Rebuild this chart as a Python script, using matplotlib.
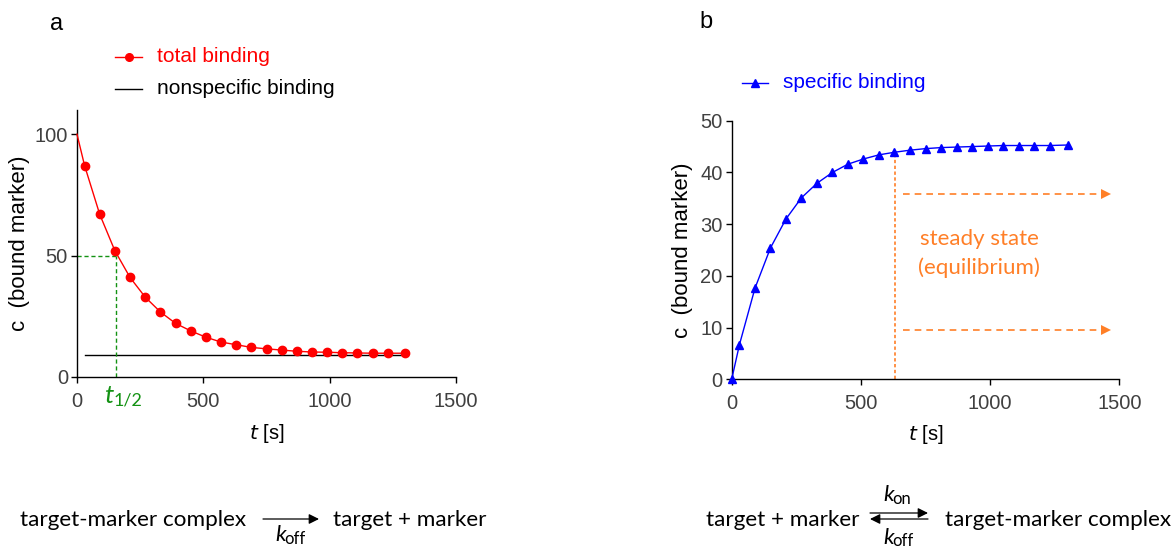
import matplotlib
matplotlib.use("Agg")
import matplotlib.pyplot as plt
from matplotlib.lines import Line2D
from matplotlib.patches import FancyArrowPatch

# ---------------- data ----------------
# panel a: total binding (line starts at t=0, c=100; markers from t=30)
t_total = [0, 30, 90, 150, 210, 270, 330, 390, 450, 510, 570, 630, 690, 750,
           810, 870, 930, 990, 1050, 1110, 1170, 1230, 1300]
c_total = [100, 87.1, 67.0, 52.0, 41.0, 32.9, 26.8, 22.1, 19.0, 16.4, 14.4, 13.3,
           12.2, 11.6, 11.1, 10.6, 10.3, 10.2, 10.0, 9.9, 9.8, 9.8, 9.8]
# nonspecific binding
t_ns = [30, 1300]
c_ns = [9.1, 9.1]
# half-life marker
t_half = 155
c_half = 50

# panel b: specific binding
t_spec = [0, 30, 90, 150, 210, 270, 330, 390, 450, 510, 570, 630, 690, 750,
          810, 870, 930, 990, 1050, 1110, 1170, 1230, 1300]
c_spec = [0, 6.7, 17.6, 25.4, 31.0, 35.1, 37.9, 40.0, 41.6, 42.6, 43.4, 43.9,
          44.3, 44.6, 44.8, 44.9, 45.0, 45.1, 45.2, 45.2, 45.2, 45.2, 45.3]
t_steady = 632
c_steady_top = 44.0
arrow_levels = [35.8, 9.5]
arrow_x = [662, 1450]

x_ticks = [0, 500, 1000, 1500]
ya_ticks = [0, 50, 100]
yb_ticks = [0, 10, 20, 30, 40, 50]

# ---------------- style ----------------
W, H = 1176, 549
fig = plt.figure(figsize=(W / 100, H / 100), dpi=100)
ARIAL = "Liberation Sans"
CAL = "Lato"
TICKC = "#404040"
GREEN = "#139213"
ORANGE = "#FF7F27"

def px(x, y):
    return x / W, 1 - y / H

def style_axes(ax):
    for s in ["top", "right"]:
        ax.spines[s].set_visible(False)
    for s in ["left", "bottom"]:
        ax.spines[s].set_linewidth(1.0)
    ax.tick_params(direction="out", length=4.5, width=1.0, colors="black",
                   labelcolor=TICKC, labelsize=14.5)
    ax.tick_params(axis="x", pad=6)
    ax.tick_params(axis="y", pad=2)
    for lab in ax.get_xticklabels() + ax.get_yticklabels():
        lab.set_fontfamily(ARIAL)

# ---------------- panel a ----------------
axa = fig.add_axes([77 / W, 1 - 377 / H, (456 - 77) / W, (377 - 110) / H])
axa.plot(t_total, c_total, color="red", lw=1.0, marker="o", ms=6,
         markevery=list(range(1, len(t_total))), clip_on=False, zorder=3)
axa.plot(t_ns, c_ns, color="black", lw=1.0, zorder=2)
axa.plot([0, t_half], [c_half, c_half], color=GREEN, lw=1.0, ls=(0, (3, 2)))
axa.plot([t_half, t_half], [0, c_half], color=GREEN, lw=1.0, ls=(0, (3, 2)))
axa.set_xlim(0, 1500)
axa.set_ylim(0, 110)
axa.set_xticks(x_ticks)
axa.set_yticks(ya_ticks)
style_axes(axa)
axa.set_ylabel("c  (bound marker)", fontsize=16, family=ARIAL)
axa.yaxis.set_label_coords(-0.124, 0.5)
axa.set_xlabel(r"$\it{t}$ [s]", fontsize=14.5, family=ARIAL)
axa.xaxis.set_label_coords(0.5, -0.17)

# t1/2 label
fig.text(*px(104, 403), "t", color=GREEN, fontsize=19, family=CAL,
         style="italic", ha="left", va="baseline")
fig.text(*px(114, 406), "1/2", color=GREEN, fontsize=13, family=CAL,
         ha="left", va="baseline")

# ---------------- panel b ----------------
axb = fig.add_axes([731.7 / W, 1 - 379.3 / H, (1119.3 - 731.7) / W,
                    (379.3 - 120.7) / H])
axb.plot(t_spec, c_spec, color="blue", lw=1.0, marker="^", ms=6.2,
         clip_on=False, zorder=3)
axb.plot([t_steady, t_steady], [0, c_steady_top], color=ORANGE, lw=1.2,
         ls=(0, (2, 1.5)), zorder=2)
for yv in arrow_levels:
    axb.plot(arrow_x, [yv, yv], color=ORANGE, lw=1.2, ls=(0, (4, 3)))
    axb.plot([arrow_x[1]], [yv], color=ORANGE, marker=">", ms=7, mew=0,
             clip_on=False)
axb.text(957, 27.2, "steady state", color=ORANGE, fontsize=16, family=CAL,
         ha="center", va="center")
axb.text(957, 21.5, "(equilibrium)", color=ORANGE, fontsize=16, family=CAL,
         ha="center", va="center")
axb.set_xlim(0, 1500)
axb.set_ylim(0, 50)
axb.set_xticks(x_ticks)
axb.set_yticks(yb_ticks)
style_axes(axb)
axb.set_ylabel("c  (bound marker)", fontsize=16, family=ARIAL)
axb.yaxis.set_label_coords(-0.10, 0.5)
axb.set_xlabel(r"$\it{t}$ [s]", fontsize=14.5, family=ARIAL)
axb.xaxis.set_label_coords(0.5, -0.17)

# ---------------- panel letters & legends ----------------
fig.text(*px(57, 24), "a", fontsize=17, family=ARIAL, ha="center", va="center")
fig.text(*px(706, 22), "b", fontsize=17, family=ARIAL, ha="center", va="center")

fig.add_artist(Line2D([115 / W, 142 / W], [1 - 57 / H] * 2, color="red", lw=1.0,
                      transform=fig.transFigure))
fig.add_artist(Line2D([128.5 / W], [1 - 57 / H], color="red", marker="o", ms=5.5,
                      transform=fig.transFigure))
fig.text(*px(157, 57), "total binding", color="red", fontsize=15, family=ARIAL,
         va="center", ha="left")
fig.add_artist(Line2D([115 / W, 142 / W], [1 - 89 / H] * 2, color="black", lw=1.0,
                      transform=fig.transFigure))
fig.text(*px(157, 89), "nonspecific binding", color="black", fontsize=15,
         family=ARIAL, va="center", ha="left")

fig.add_artist(Line2D([742 / W, 768 / W], [1 - 83 / H] * 2, color="blue", lw=1.0,
                      transform=fig.transFigure))
fig.add_artist(Line2D([755 / W], [1 - 83 / H], color="blue", marker="^", ms=5.5,
                      transform=fig.transFigure))
fig.text(*px(783, 83), "specific binding", color="blue", fontsize=15,
         family=ARIAL, va="center", ha="left")

# ---------------- reaction schemes ----------------
EQ = 16.2
SUB = 12

def arrow(x0, y0, x1, y1):
    fig.add_artist(FancyArrowPatch(
        px(x0, y0), px(x1, y1), transform=fig.transFigure,
        arrowstyle="-|>,head_length=6,head_width=3", lw=0.9, color="black",
        shrinkA=0, shrinkB=0))

fig.text(*px(20, 520), "target-marker complex", fontsize=EQ, family=CAL,
         ha="left", va="center")
arrow(263, 519, 319, 519)
fig.text(*px(275, 541), "k", fontsize=EQ, family=CAL, style="italic",
         ha="left", va="baseline")
fig.text(*px(284, 544), "off", fontsize=SUB, family=CAL, ha="left", va="baseline")
fig.text(*px(333, 520), "target + marker", fontsize=EQ, family=CAL,
         ha="left", va="center")

fig.text(*px(706, 520), "target + marker", fontsize=EQ, family=CAL,
         ha="left", va="center")
arrow(870, 513, 928, 513)
arrow(928, 519, 870, 519)
fig.text(*px(883, 501), "k", fontsize=EQ, family=CAL, style="italic",
         ha="left", va="baseline")
fig.text(*px(892, 504), "on", fontsize=SUB, family=CAL, ha="left", va="baseline")
fig.text(*px(883, 544), "k", fontsize=EQ, family=CAL, style="italic",
         ha="left", va="baseline")
fig.text(*px(892, 546), "off", fontsize=SUB, family=CAL, ha="left", va="baseline")
fig.text(*px(945, 520), "target-marker complex", fontsize=EQ, family=CAL,
         ha="left", va="center")

fig.savefig("out.png", dpi=100)
